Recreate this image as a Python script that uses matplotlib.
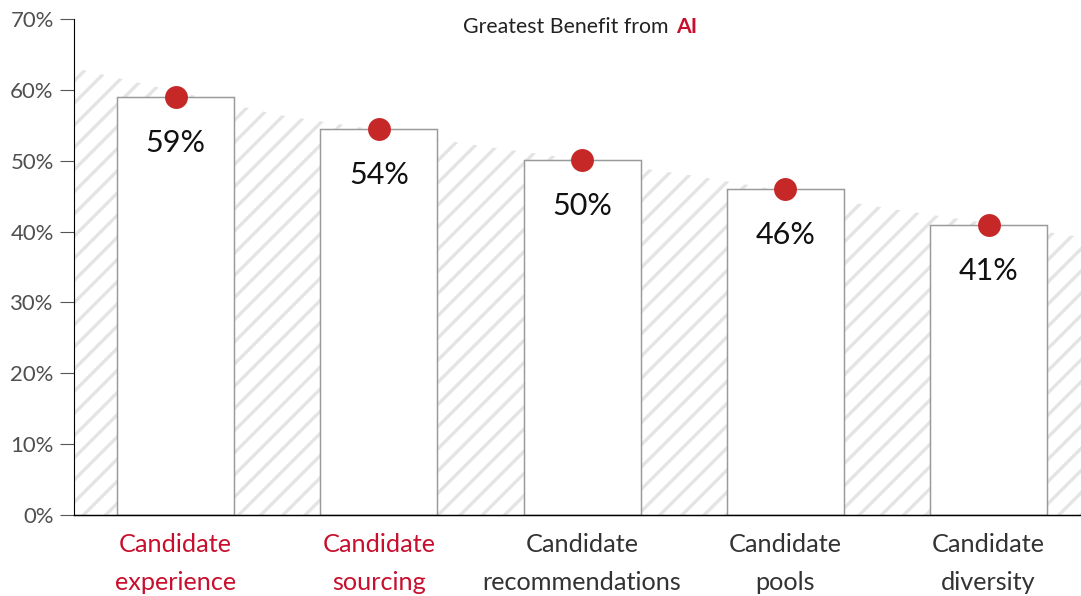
import matplotlib
matplotlib.use("Agg")
import matplotlib.pyplot as plt

# data
categories = ["Candidate\nexperience", "Candidate\nsourcing", "Candidate\nrecommendations",
              "Candidate\npools", "Candidate\ndiversity"]
values = [59.0, 54.5, 50.1, 46.0, 40.9]
value_labels = ["59%", "54%", "50%", "46%", "41%"]
highlight = [True, True, False, False, False]
# top edge of the striped background band (at gap centres)
band_x = [-0.5, 0.5, 1.5, 2.5, 3.5, 4.46]
band_top = [63.1, 56.5, 52.1, 48.1, 43.3, 39.2]
yticks = [0, 10, 20, 30, 40, 50, 60, 70]

RED = "#c8102e"
DOT = "#c62828"
DPI = 133

plt.rcParams["font.family"] = ["Lato", "DejaVu Sans"]
plt.rcParams["hatch.linewidth"] = 1.8

fig = plt.figure(figsize=(1081 / DPI, 596 / DPI), dpi=DPI)
ax = fig.add_axes([74 / 1081, 81 / 596, 1007 / 1081, 496 / 596])

x = list(range(len(categories)))

ax.fill_between(band_x, 0, band_top, facecolor="white", edgecolor="#e4e4e4",
                hatch="//", linewidth=0, zorder=1)
ax.bar(x, values, width=0.575, color="white", edgecolor="#9a9a9a", linewidth=0.8, zorder=2)
ax.plot(x, values, "o", color=DOT, markersize=11.4, zorder=4, clip_on=False)

for xi, v, lab in zip(x, values, value_labels):
    ax.annotate(lab, (xi, v), xytext=(0, -25), textcoords="offset points",
                ha="center", va="center", fontsize=16.5, color="#111111", zorder=5)

ax.set_xlim(-0.5, 4.455)
ax.set_ylim(0, 70)
ax.set_yticks(yticks)
ax.set_yticklabels([f"{t}%" for t in yticks], fontsize=12, color="#505050")
ax.set_xticks(x)
ax.set_xticklabels(categories, fontsize=13.7, linespacing=1.75)
for lbl, hl in zip(ax.get_xticklabels(), highlight):
    lbl.set_color(RED if hl else "#333333")

ax.tick_params(axis="x", length=0, pad=10)
ax.tick_params(axis="y", length=7.5, width=0.6, color="#555555", pad=3.5)
ax.spines["top"].set_visible(False)
ax.spines["right"].set_visible(False)
ax.spines["left"].set_linewidth(0.6)
ax.spines["bottom"].set_linewidth(0.8)

# title with the red bold "AI"
ax.text(0.590, 0.983, "Greatest Benefit from", transform=ax.transAxes,
        ha="right", va="center", fontsize=11.5, color="#222222")
ax.text(0.598, 0.983, "AI", transform=ax.transAxes,
        ha="left", va="center", fontsize=11.5, color=RED, fontweight="bold")

fig.savefig("out.png", dpi=DPI)
